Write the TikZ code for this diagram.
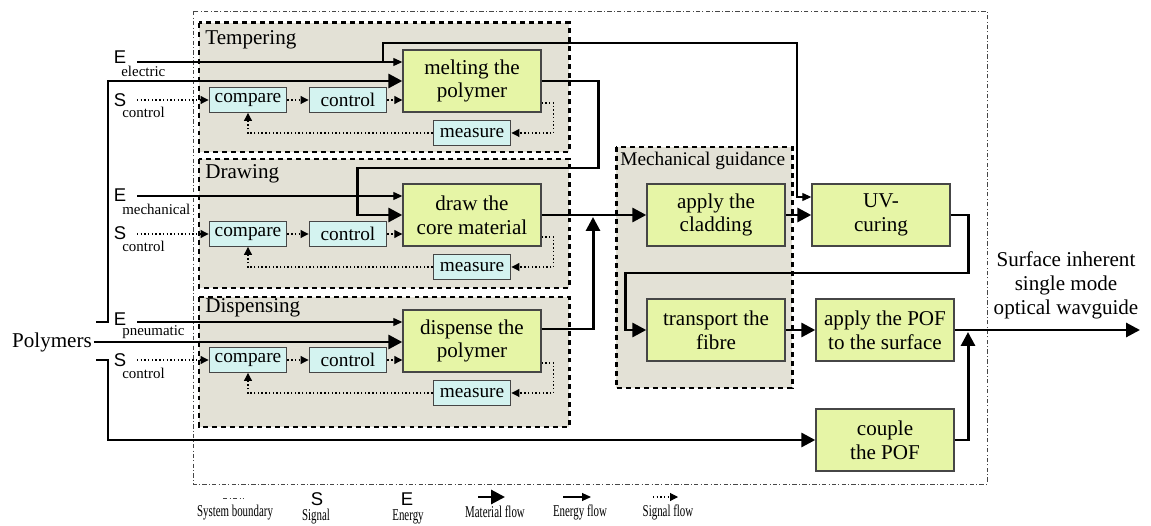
\documentclass[tikz,border=0pt]{standalone}
\usepackage{graphicx}
\usepackage{fontspec}
\setmainfont{Liberation Serif}
\newfontfamily\tnr{Liberation Serif}
\newfontfamily\arl{Liberation Sans}
\usepackage{tikz}
\usetikzlibrary{arrows.meta}
\definecolor{boxgreen}{RGB}{230,245,166}
\definecolor{boxcyan}{RGB}{212,243,240}
\definecolor{groupgray}{RGB}{227,225,214}
\definecolor{edgegray}{RGB}{70,70,70}
\newcommand{\legtext}[1]{\scalebox{0.66}[1]{\tnr\fontsize{9.4}{11}\selectfont #1}}

\begin{document}
\begin{tikzpicture}[x=0.02cm, y=-0.02cm, node distance=2cm,
		main node/.style={rectangle,draw=edgegray,fill=boxgreen,line width=0.8pt,minimum width=2.76cm,minimum height=1.24cm,inner sep=1pt,align=center,font=\tnr\fontsize{12}{13.6}\selectfont},
		small node/.style={rectangle,draw=edgegray,fill=boxcyan,line width=0.8pt,minimum width=1.55cm,minimum height=0.49cm,inner sep=1pt,font=\tnr\fontsize{11}{12}\selectfont},
		group box/.style={fill=groupgray,line width=1.7pt,dash pattern=on 2.8pt off 2.3pt},
		group label/.style={anchor=west,inner sep=0pt,font=\tnr\fontsize{12}{14}\selectfont},
		letter/.style={inner sep=0pt,font=\arl\fontsize{10.5}{12}\selectfont},
		sub/.style={anchor=west,inner sep=0pt,font=\tnr\fontsize{8.5}{10}\selectfont},
		legend/.style={inner sep=0pt},
		mat/.style={line width=1.7pt,-{Triangle[length=0.28cm,width=0.28cm]}},
		energy/.style={line width=0.6pt,-{Triangle[length=0.18cm,width=0.16cm]}},
		signal/.style={line width=0.6pt,dash pattern=on 0.8pt off 1.3pt,-{Triangle[length=0.16cm,width=0.16cm]}},
		boundary/.style={line width=0.5pt,draw=edgegray,dash pattern=on 2.5pt off 1.3pt on 0.5pt off 1.3pt}]
		
		\useasboundingbox (0,0) rectangle (1151,526);
		
		\draw[boundary] (193,11) rectangle (987,484);
		\draw[group box] (199,23) rectangle (569,152);
		\draw[group box] (199,159) rectangle (569,288);
		\draw[group box] (199,297) rectangle (569,427);
		\draw[group box] (616,147) rectangle (792,388);
		
		\node[group label] (t1) at (205,40) {Tempering};
		\node[group label] (t2) at (205,174) {Drawing};
		\node[group label] (t3) at (205,308) {Dispensing};
		\node[group label,font=\tnr\fontsize{11}{13}\selectfont] (t4) at (620,161) {Mechanical guidance};
		
		\node[main node] (1) at (472,81) {melting the\\polymer};
		\node[main node] (2) at (472,215) {draw the\\core material};
		\node[main node] (3) at (472,341) {dispense the\\polymer};
		\node[main node] (4) at (716,215) {apply the\\cladding};
		\node[main node] (5) at (716,330) {transport the\\fibre};
		\node[main node] (6) at (881,215) {UV-\\curing};
		\node[main node] (7) at (885,330) {apply the POF\\to the surface};
		\node[main node] (8) at (885,440) {couple\\the POF};
		
		\node[small node] (c1) at (248,100) {compare};
		\node[small node] (k1) [right of=c1] {control};
		\node[small node] (m1) [below of=1, node distance=1.04cm] {measure};
		\node[small node] (c2) at (248,234) {compare};
		\node[small node] (k2) [right of=c2] {control};
		\node[small node] (m2) [below of=2, node distance=1.04cm] {measure};
		\node[small node] (c3) at (248,360) {compare};
		\node[small node] (k3) [right of=c3] {control};
		\node[small node] (m3) [below of=3, node distance=1.04cm] {measure};
		
		\node[letter] (E1) at (120,57) {E};
		\node[sub] (E1s) at (121,71) {electric};
		\node[letter] (S1) at (120,100) {S};
		\node[sub] (S1s) at (122,112) {control};
		\node[letter] (E2) at (120,195) {E};
		\node[sub] (E2s) at (122,209) {mechanical};
		\node[letter] (S2) at (120,233) {S};
		\node[sub] (S2s) at (122,246) {control};
		\node[letter] (E3) at (120,319) {E};
		\node[sub] (E3s) at (122,332) {pneumatic};
		\node[letter] (S3) at (120,360) {S};
		\node[sub] (S3s) at (122,373) {control};
		\node[inner sep=1pt,font=\tnr\fontsize{12}{14}\selectfont] (poly) at (52,342) {Polymers};
		\node[align=center,font=\tnr\fontsize{12}{13.6}\selectfont] (wg) at (1066,285) {Surface inherent\\single mode\\optical wavguide};
		
		\coordinate (e1) at (137,62);
		\coordinate (e2) at (137,196);
		\coordinate (e3) at (137,322);
		\coordinate (s1) at (137,100);
		\coordinate (s2) at (137,234);
		\coordinate (s3) at (137,360);
		\coordinate (b1) at (383,62);
		\coordinate (p1) at (96,322);
		\coordinate (p2) at (96,360);
		\coordinate (j1) at (593,217);
		\coordinate (j2) at (968,332);
		\coordinate (out) at (1140,330);
		
		\draw[energy] (e1) -- (e1 -| 1.west);
		\draw[energy] (e2) -- (e2 -| 2.west);
		\draw[energy] (e3) -- (e3 -| 3.west);
		\draw[energy] (b1) |- (797,43) |- ([yshift=0.36cm]6.west);
		
		\draw[signal] (s1) -- (c1);
		\path (c1) edge[signal] (k1);
		\draw[signal] (k1) -- (k1 -| 1.west);
		\draw[signal] ([yshift=-0.44cm]1.east) -- ++(12,0) |- (m1);
		\draw[signal] (m1) -| (c1);
		\draw[signal] (s2) -- (c2);
		\path (c2) edge[signal] (k2);
		\draw[signal] (k2) -- (k2 -| 2.west);
		\draw[signal] ([yshift=-0.44cm]2.east) -- ++(12,0) |- (m2);
		\draw[signal] (m2) -| (c2);
		\draw[signal] (s3) -- (c3);
		\path (c3) edge[signal] (k3);
		\draw[signal] (k3) -- (k3 -| 3.west);
		\draw[signal] ([yshift=-0.44cm]3.east) -- ++(12,0) |- (m3);
		\draw[signal] (m3) -| (c3);
		
		\draw[mat] (poly) -- (poly -| 3.west);
		\draw[mat] (p1) -- ++(12,0) |- (1);
		\draw[mat] (p2) -- ++(12,0) |- (8);
		\draw[mat] (1) -| (598,168) -| (357,215) -- (2);
		\path (2) edge[mat] (4);
		\draw[mat] ([yshift=0.24cm]3.east) -| (j1);
		\path (4) edge[mat] (6);
		\draw[mat] (6) -| (968,273) -| (625,330) -- (5);
		\path (5) edge[mat] (7);
		\draw[mat] (7) -- (out);
		\draw[mat] (8) -| (j2);
		
		\draw[boundary] (223,498) -- (243,498);
		\node[legend] (l1) at (235,513) {\legtext{System boundary}};
		\node[letter] (l2) at (317,499) {S};
		\node[legend] (l3) at (316,517) {\legtext{Signal}};
		\node[letter] (l4) at (407,499) {E};
		\node[legend] (l5) at (408,517) {\legtext{Energy}};
		\draw[mat] (478,497) -- (505,497);
		\node[legend] (l6) at (495,512) {\legtext{Material flow}};
		\draw[energy] (563,497) -- (591,497);
		\node[legend] (l7) at (580,512) {\legtext{Energy flow}};
		\draw[signal] (653,497) -- (678,497);
		\node[legend] (l8) at (668,512) {\legtext{Signal flow}};
\end{tikzpicture}
\end{document}
